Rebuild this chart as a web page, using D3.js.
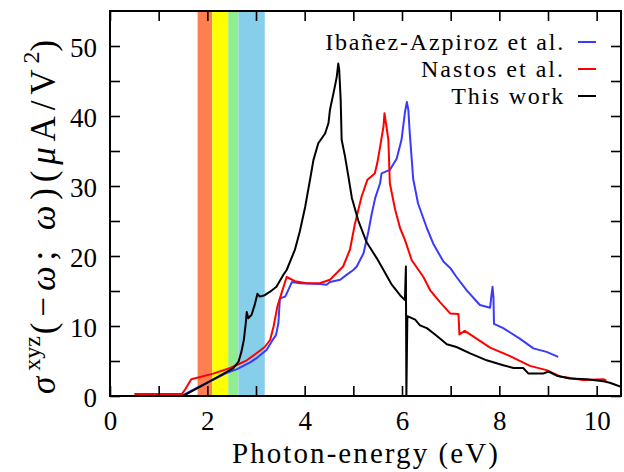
<!DOCTYPE html>
<html>
<head>
<meta charset="utf-8">
<script src="https://cdn.jsdelivr.net/npm/d3@7"></script>
<style>
  html, body { margin: 0; padding: 0; background: #fff; }
  svg { display: block; }
  svg text { font-family: "Liberation Serif", "Times New Roman", "DejaVu Serif", serif; }
</style>
</head>
<body>
<svg id="chart" width="624" height="472"></svg>
<script>
// Shift current spectra sigma^xyz(-w;w), photon energy (eV) vs uA/V^2
const ibanez = [
  [1.47, 0], [1.85, 1.4], [2.20, 2.6], [2.40, 3.3], [2.60, 3.8], [2.88, 4.8], [3.01, 5.4],
  [3.22, 6.6], [3.36, 8.2], [3.41, 8.7], [3.46, 10.4], [3.49, 13.8], [3.51, 14.0], [3.60, 14.2],
  [3.66, 15.1], [3.74, 16.3], [3.90, 16.1], [4.31, 16.0], [4.45, 15.9], [4.52, 16.3], [4.73, 16.6],
  [4.86, 17.3], [5.00, 18.0], [5.07, 18.5], [5.21, 20.4], [5.31, 23.5], [5.38, 26.1], [5.45, 28.3],
  [5.55, 30.4], [5.58, 31.8], [5.75, 32.3], [5.89, 33.9], [5.99, 36.6], [6.06, 40.5], [6.10, 42.0],
  [6.13, 40.9], [6.16, 37.5], [6.23, 31.0], [6.33, 27.5], [6.51, 24.0], [6.64, 21.8], [6.85, 19.2],
  [6.99, 18.3], [7.12, 17.0], [7.33, 15.1], [7.60, 13.0], [7.81, 12.6], [7.84, 14.5], [7.86, 15.6],
  [7.88, 14.0], [7.89, 10.3], [8.08, 9.7], [8.42, 8.2], [8.70, 6.8], [8.97, 6.3], [9.21, 5.6]
];
const nastos = [
  [0.50, 0.3], [1.48, 0.3], [1.55, 1.0], [1.67, 2.4], [2.12, 3.2], [2.47, 4.0], [2.81, 5.1],
  [3.01, 6.1], [3.18, 7.0], [3.29, 8.0], [3.36, 9.9], [3.44, 12.8], [3.53, 14.8], [3.63, 17.0],
  [3.80, 16.4], [4.04, 16.1], [4.31, 16.1], [4.52, 16.6], [4.79, 18.5], [4.93, 20.9], [5.03, 24.5],
  [5.17, 28.5], [5.29, 30.9], [5.44, 31.8], [5.49, 33.2], [5.55, 35.6], [5.62, 38.5], [5.64, 40.4],
  [5.68, 38.5], [5.72, 36.6], [5.75, 30.4], [5.86, 26.6], [5.96, 24.0], [6.06, 22.3], [6.20, 19.4],
  [6.44, 17.0], [6.58, 15.1], [6.78, 13.4], [6.99, 11.8], [7.16, 11.7], [7.18, 8.8], [7.29, 9.3],
  [7.40, 8.8], [7.81, 6.9], [8.22, 5.7], [8.63, 4.3], [8.97, 3.7], [9.25, 2.8], [9.72, 2.3],
  [10.14, 2.4], [10.20, 2.2]
];
const thisWork = [
  [0, 0], [1.50, 0], [1.92, 1.6], [2.26, 2.9], [2.53, 3.95], [2.64, 4.9], [2.70, 6.3], [2.75, 8.0],
  [2.79, 10.4], [2.81, 12.0], [2.84, 11.1], [2.91, 11.6], [2.98, 13.2], [3.03, 14.6], [3.08, 14.2],
  [3.18, 14.4], [3.29, 14.9], [3.42, 15.6], [3.56, 17.3], [3.63, 18.0], [3.80, 20.9], [3.90, 23.5],
  [4.01, 27.0], [4.11, 30.9], [4.18, 33.7], [4.28, 36.1], [4.42, 37.5], [4.49, 39.0], [4.52, 40.9],
  [4.59, 43.2], [4.62, 44.2], [4.66, 45.6], [4.69, 47.5], [4.71, 46.6], [4.74, 42.3], [4.76, 36.6],
  [4.83, 34.2], [4.90, 31.3], [4.97, 28.3], [5.10, 25.1], [5.27, 22.0], [5.48, 19.7], [5.62, 18.0],
  [5.79, 15.9], [5.96, 14.4], [6.06, 13.7], [6.08, 18.5], [6.09, 0], [6.11, 11.4], [6.27, 10.9],
  [6.37, 10.1], [6.51, 9.7], [6.64, 9.0], [6.78, 8.2], [6.92, 7.4], [7.12, 7.0], [7.40, 6.1],
  [7.74, 5.1], [8.08, 4.4], [8.29, 4.0], [8.49, 4.0], [8.60, 3.2], [8.90, 3.2], [9.01, 3.5],
  [9.18, 2.9], [9.45, 2.5], [9.79, 2.4], [10.14, 2.1], [10.27, 1.9], [10.50, 1.3]
];

// visible-light bands (eV edges) and their fills
const bandEdges = [1.80, 2.10, 2.43, 2.64, 3.18];
const bandColors = ["#ff7f50", "#ffff00", "#90ee90", "#87ceeb"];

const xTickValues = d3.range(0, 11, 1);
const yTickValues = d3.range(0, 55, 5);

const seriesNames = ["Ibañez-Azpiroz et al.", "Nastos et al.", "This work"];
const seriesColors = ["#3a3aff", "#ff0000", "#000000"];

const svg = d3.select("#chart");

const plot = { left: 110, right: 621, top: 11, bottom: 396 };
const x = d3.scaleLinear().domain([0, 10.5]).range([plot.left, plot.right]);
const y = d3.scaleLinear().domain([0, 55]).range([plot.bottom, plot.top]);

// widen a text's letter spacing so that it spans the given width
function spreadTo(sel, width, gaps) {
  const node = sel.node();
  const len = node.getComputedTextLength();
  const n = gaps || node.textContent.length - 1;
  if (n > 0 && len < width) sel.attr("letter-spacing", (width - len) / n);
}

svg.append("defs").append("clipPath").attr("id", "plotClip")
  .append("rect")
  .attr("x", plot.left).attr("y", plot.top)
  .attr("width", plot.right - plot.left).attr("height", plot.bottom - plot.top);

// colour bands
const bands = bandColors.map((c, i) => ({ x0: bandEdges[i], x1: bandEdges[i + 1], color: c }));
svg.append("g").selectAll("rect").data(bands).join("rect")
  .attr("x", d => x(d.x0))
  .attr("width", d => x(d.x1) - x(d.x0))
  .attr("y", plot.top)
  .attr("height", plot.bottom - plot.top)
  .attr("fill", d => d.color);

// curves
const line = d3.line().x(d => x(d[0])).y(d => y(d[1]));
const curves = svg.append("g").attr("clip-path", "url(#plotClip)");
[ibanez, nastos, thisWork].forEach((data, i) => {
  curves.append("path")
    .datum(data)
    .attr("d", line)
    .attr("fill", "none")
    .attr("stroke", seriesColors[i])
    .attr("stroke-width", 2)
    .attr("stroke-linejoin", "round");
});

// axes with inward ticks
function styleAxis(g) {
  g.attr("font-family", null);
  g.select(".domain").remove();
  g.selectAll(".tick line").attr("stroke", "#000").attr("stroke-width", 1.6);
  g.selectAll("text").attr("font-size", 27).attr("fill", "#000");
}
svg.append("g").attr("transform", `translate(0,${plot.bottom})`)
  .call(d3.axisBottom(x).tickValues(xTickValues).tickSize(-10).tickSizeOuter(0).tickPadding(15)
    .tickFormat(d => d % 2 === 0 ? d : ""))
  .call(styleAxis);
svg.append("g").attr("transform", `translate(0,${plot.top})`)
  .call(d3.axisTop(x).tickValues(xTickValues).tickSize(-10).tickSizeOuter(0).tickFormat(""))
  .call(styleAxis);
svg.append("g").attr("transform", `translate(${plot.left},0)`)
  .call(d3.axisLeft(y).tickValues(yTickValues).tickSize(-10).tickSizeOuter(0).tickPadding(13)
    .tickFormat(d => d % 10 === 0 ? d : ""))
  .call(styleAxis)
  .call(g => g.selectAll("text").attr("dy", "0.4em"));
svg.append("g").attr("transform", `translate(${plot.right},0)`)
  .call(d3.axisRight(y).tickValues(yTickValues).tickSize(-10).tickSizeOuter(0).tickFormat(""))
  .call(styleAxis);

// frame
svg.append("rect")
  .attr("x", plot.left).attr("y", plot.top)
  .attr("width", plot.right - plot.left).attr("height", plot.bottom - plot.top)
  .attr("fill", "none").attr("stroke", "#000").attr("stroke-width", 2);

// x axis title
const xTitle = svg.append("text")
  .attr("x", 366).attr("y", 463)
  .attr("text-anchor", "middle")
  .attr("font-size", 29)
  .text("Photon-energy (eV)");
spreadTo(xTitle, 266);

// y axis title
const yTitle = svg.append("text")
  .attr("transform", "translate(55,214) rotate(-90)")
  .attr("text-anchor", "middle")
  .attr("font-size", 35);
yTitle.append("tspan").attr("font-style", "italic").text("σ");
yTitle.append("tspan").attr("class", "sup").attr("font-size", 24).attr("dy", -15).text("xyz");
yTitle.append("tspan").attr("dy", 15).attr("dx", 2).text("(−");
yTitle.append("tspan").attr("font-style", "italic").text("ω");
yTitle.append("tspan").text("; ");
yTitle.append("tspan").attr("font-style", "italic").text("ω");
yTitle.append("tspan").text(")(");
yTitle.append("tspan").attr("font-style", "italic").text("μ");
yTitle.append("tspan").text("A/V");
yTitle.append("tspan").attr("class", "sup").attr("font-size", 24).attr("dy", -16).text("2");
yTitle.append("tspan").attr("dy", 16).text(")");
spreadTo(yTitle, 352, 13);
yTitle.selectAll("tspan.sup").attr("letter-spacing", 0);

// legend
const legend = svg.append("g");
const legendWidths = [238, 142, 112];
seriesNames.forEach((name, i) => {
  const rowY = 50 + i * 27;
  const t = legend.append("text")
    .attr("x", 565).attr("y", rowY)
    .attr("text-anchor", "end")
    .attr("font-size", 24)
    .text(name);
  spreadTo(t, legendWidths[i]);
  legend.append("line")
    .attr("x1", 578).attr("x2", 596)
    .attr("y1", rowY - 8).attr("y2", rowY - 8)
    .attr("stroke", seriesColors[i]).attr("stroke-width", 2);
});
</script>
</body>
</html>
